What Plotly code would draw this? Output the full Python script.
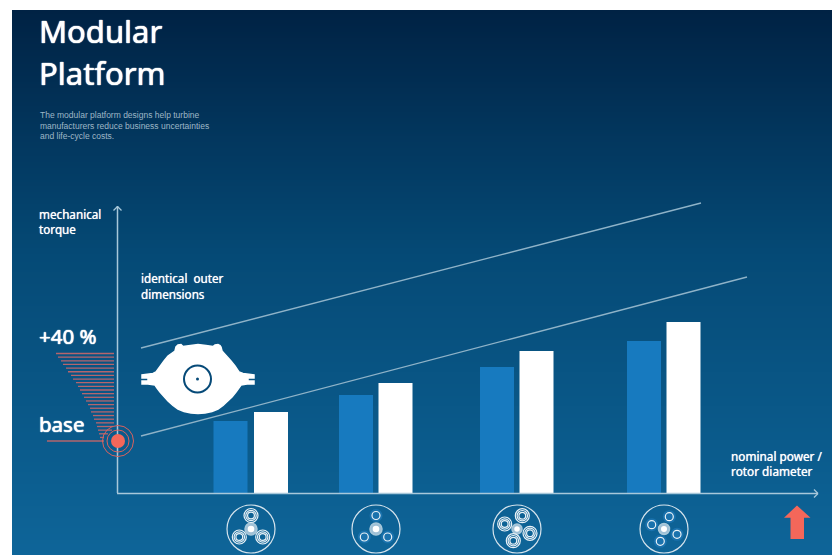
import numpy as np
import plotly.graph_objects as go

# Bar series: torque height per frame size
frame_sizes = ["frame 1", "frame 2", "frame 3", "frame 4"]
base_torque = [72, 98, 126, 152]
uprated_torque = [81, 110, 142, 171]
base_power = [113.5, 239, 380, 527]
uprated_power = [154, 278.5, 419.5, 566.5]

title_lines = ["Modular", "Platform"]
intro_lines = [
    "The modular platform designs help turbine",
    "manufacturers reduce business uncertainties",
    "and life-cycle costs.",
]
y_title_lines = ["mechanical", "torque"]
x_title_lines = ["nominal power /", "rotor diameter"]
envelope_lines = ["identical  outer", "dimensions"]

# Left ends of the "+40 %" wedge hatching, top to bottom
wedge_left = [56, 58, 61, 63, 66, 68, 71, 73, 76, 78, 80, 82, 84, 86, 88, 90,
              91, 93, 94, 96, 97, 98, 99, 100]
wedge_right = [114] * 20 + [113, 112, 108, 104]

# Gearbox icons: planet offsets from the sun wheel, and ring radii of a planet
gear_icons = [
    {"c": (251, 529), "planets": [(0, -13.5), (-11.7, 8), (11.7, 8)], "rings": [7, 5.2, 3.4], "sun": 6},
    {"c": (376, 529), "planets": [(0, -13.5), (-11.7, 8), (11.7, 8)], "rings": [4], "sun": 6},
    {"c": (517, 529), "planets": [(5.3, -13.3), (-12.3, -5), (-3.7, 11.7), (13, 4.3)], "rings": [7, 5.2, 3.4], "sun": 5},
    {"c": (664, 529), "planets": [(5.3, -12.3), (-12.3, -4.3), (-3.7, 12.3), (13, 5.3)], "rings": [4], "sun": 5.5},
]

# Casing outline seen along the shaft
casing_x = [175, 176, 178, 181, 183, 190, 198, 206, 213, 215, 218, 220, 221, 222, 227, 231, 235, 239,
            243, 248, 254, 254, 248, 248, 254, 254, 247, 241, 239, 236, 232, 228, 223, 218, 212, 205,
            198, 191, 184, 178, 173, 168, 164, 160, 157, 155, 148, 142, 142, 148, 148, 142, 142, 148,
            153, 156, 160, 164, 168, 172]
casing_y = [351, 347, 345, 344.5, 346.5, 345.5, 344.5, 345.5, 346.5, 345, 344.5, 345.5, 347, 351,
            356, 361, 366, 372, 373.5, 374, 375, 378, 378, 381, 381, 384, 384, 385, 388, 392, 397,
            401, 405.5, 409, 411.5, 413, 413.5, 413, 411.5, 409, 405.5, 401, 397, 392, 388, 385, 384,
            384, 381, 381, 378, 378, 375, 374, 373.5, 372, 366, 361, 356, 353]

W, H = 832, 555
ORIGIN_X, ORIGIN_Y = 117, 493
BAR_BLUE = "#177abf"
CORAL = "#f4675a"
AXIS = "#a8c8da"
HATCH = "#b5656c"
LABEL_FONT = "Noto Sans"


def X(px):
    return px - ORIGIN_X


def Y(py):
    return ORIGIN_Y - py


fig = go.Figure()

# Backdrop with a vertical gradient, as a heatmap so that it stays under the bars
edges = np.arange(10, H + 2, 2.0)
shade = (edges[:-1] - 10) / (H - 10)
fig.add_trace(go.Heatmap(
    x=[X(12), X(W)], y=[Y(v) for v in edges], z=[[float(s)] for s in shade],
    zmin=0, zmax=1, showscale=False, hoverinfo="skip",
    colorscale=[[0, "#002244"], [0.45, "#054a76"], [1, "#0e6599"]],
))

fig.add_trace(go.Bar(x=base_power, y=base_torque, width=34, marker=dict(color=BAR_BLUE, line_width=0)))
fig.add_trace(go.Bar(x=uprated_power, y=uprated_torque, width=34, marker=dict(color="#ffffff", line_width=0)))

# Casing silhouette
fig.add_trace(go.Scatter(
    x=[X(v) for v in casing_x + casing_x[:1]], y=[Y(v) for v in casing_y + casing_y[:1]],
    mode="lines", fill="toself", fillcolor="#ffffff",
    line=dict(color="#ffffff", width=1.5), hoverinfo="skip",
))

shapes = []


def line(x0, y0, x1, y1, color, width):
    shapes.append(dict(type="line", x0=X(x0), y0=Y(y0), x1=X(x1), y1=Y(y1),
                       line=dict(color=color, width=width)))


def circle(cx, cy, r, line_color=None, width=1, fill=None):
    shapes.append(dict(type="circle", x0=X(cx - r), x1=X(cx + r), y0=Y(cy - r), y1=Y(cy + r),
                       line=dict(color=line_color or "rgba(0,0,0,0)", width=width if line_color else 0),
                       fillcolor=fill or "rgba(0,0,0,0)"))


# Axes with open arrow tips
line(117.5, 493, 117.5, 206, AXIS, 1.5)
line(113.5, 210.5, 117.5, 206.5, AXIS, 1.2)
line(121.5, 210.5, 117.5, 206.5, AXIS, 1.2)
line(117, 493.5, 818, 493.5, AXIS, 1.5)
line(814, 489.5, 818, 493.5, AXIS, 1.2)
line(814, 497.5, 818, 493.5, AXIS, 1.2)

# Envelope of identical outer dimensions
line(141, 348, 701, 203, "#8fb3c8", 1.3)
line(141, 436, 747, 277, "#8fb3c8", 1.3)

# Shaft bore in the casing
circle(197.5, 379, 13.5, "#064a78", 2)
circle(197.5, 379, 1.5, fill="#064a78")

# "+40 %" wedge
for i, (x_left, x_right) in enumerate(zip(wedge_left, wedge_right)):
    row = 353.5 + i * 3.65
    line(x_left, row, x_right, row, HATCH, 1.3)
line(47, 441, 104, 441, HATCH, 1.5)

# Base-point target
circle(118, 441, 15.5, "#d9625f", 1)
circle(118, 441, 11, "#d9625f", 1)
circle(118, 441, 7, fill=CORAL)

# Gearbox arrangements
for icon in gear_icons:
    cx, cy = icon["c"]
    circle(cx, cy, 24, "#d5e3ec", 1.2)
    circle(cx, cy, icon["sun"], "#a8c8da", 1.5, "#9fc0d6")
    circle(cx, cy, icon["sun"] * 0.55, fill="#ffffff")
    for dx, dy in icon["planets"]:
        if len(icon["rings"]) == 1:
            circle(cx + dx, cy + dy, icon["rings"][0] + 2.5, fill="#1a72ad")
        for r in icon["rings"]:
            circle(cx + dx, cy + dy, r, "#eaf2f7", 1.2)

# Upward arrow marker
arrow = [(797, 505.5), (810.5, 517.7), (804, 517.7), (804, 539), (790.5, 539), (790.5, 517.7), (784, 517.7)]
shapes.append(dict(type="path", fillcolor=CORAL, line_width=0,
                   path="M " + " L ".join(f"{X(a)},{Y(b)}" for a, b in arrow) + " Z"))

annotations = []


def text(px, py, label, size, color="#ffffff", family=LABEL_FONT, halo="0 0 0.7px #ffffff"):
    annotations.append(dict(
        x=X(px), y=Y(py), xref="x", yref="y", text=label,
        showarrow=False, xanchor="left", yanchor="middle", borderpad=0,
        font=dict(size=size, color=color, family=family, shadow=halo),
    ))


# Regular weight with a fine same-colour halo gives the medium stroke of the labels
heavy = "0 0 1px #ffffff, 0 0 1px #ffffff"
for label, py in zip(title_lines, [31, 73]):
    text(38, py, label, 31, halo=heavy)
for label, py in zip(intro_lines, [115, 125.5, 136]):
    text(39, py, label, 8.5, color="#9fb7c7", family="Liberation Sans", halo="none")
for label, py in zip(y_title_lines, [214, 229]):
    text(37.5, py, label, 11.7)
for label, py in zip(envelope_lines, [278, 294]):
    text(139.5, py, label, 11.7)
for label, py in zip(x_title_lines, [456, 470.5]):
    text(729.5, py, label, 11.8)
text(38, 336, "+40 %", 20.5, halo=heavy)
text(38, 423.5, "base", 20.5, halo=heavy)

fig.update_layout(
    width=W, height=H, margin=dict(l=0, r=0, t=0, b=0, pad=0),
    paper_bgcolor="#ffffff", plot_bgcolor="#ffffff", showlegend=False, barmode="overlay",
    xaxis=dict(range=[X(0), X(W)], visible=False, fixedrange=True),
    yaxis=dict(range=[Y(H), Y(0)], visible=False, fixedrange=True),
    shapes=shapes, annotations=annotations,
)

fig.write_html("out.html", config=dict(displayModeBar=False))
